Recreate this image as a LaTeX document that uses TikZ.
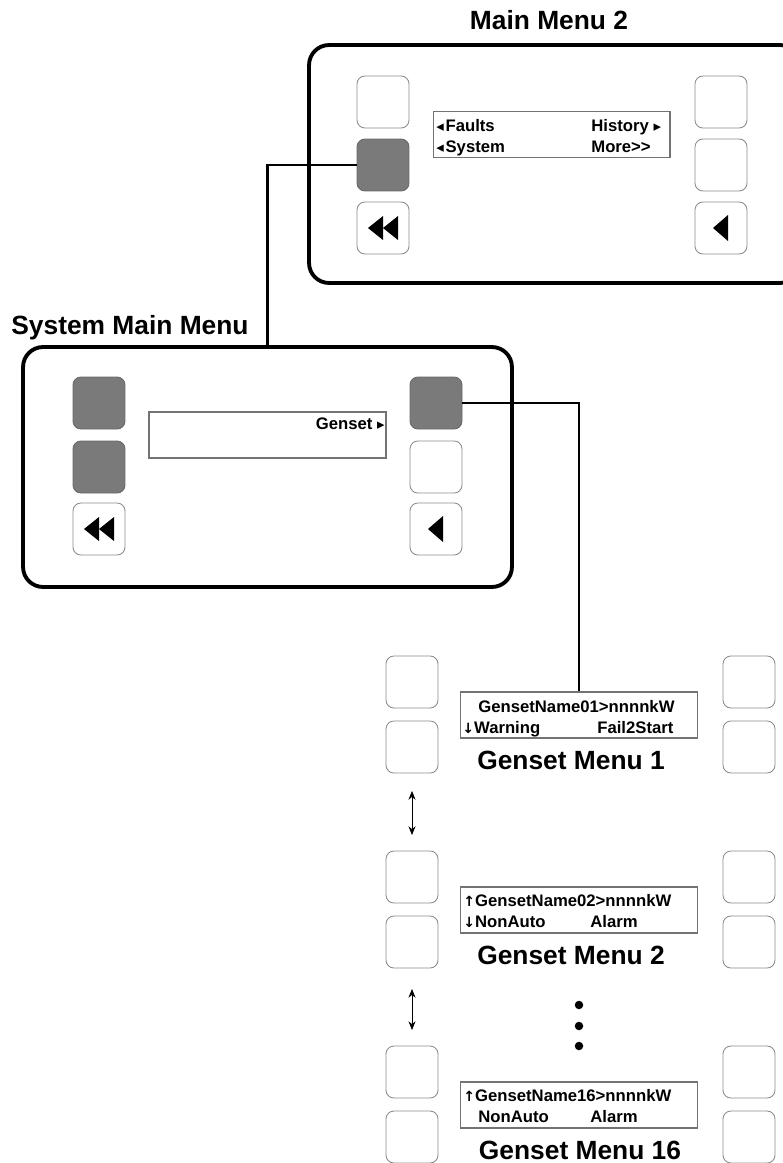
\documentclass[tikz,border=0pt]{standalone}
\usepackage{fontspec}
\setmainfont{Liberation Sans}
\newfontfamily\symfont{DejaVu Sans}
\usetikzlibrary{calc,arrows.meta}

\definecolor{keygray}{RGB}{122,122,122}
\tikzset{
  softkey/.style={draw=black!45, line width=0.5pt, rounded corners=4.5pt,
    minimum size=1.04cm, inner sep=0pt},
  keyon/.style={softkey, fill=keygray, draw=keygray!85!black},
  panel/.style={draw, line width=2.2pt, rounded corners=0.4cm, inner sep=0pt},
  lcd/.style={draw=black!55, line width=0.6pt, inner sep=0pt,
    minimum width=4.74cm, minimum height=0.92cm},
  lcdtext/.style={font=\bfseries\fontsize{9.5}{10}\selectfont, inner sep=0pt, anchor=base west},
  menutitle/.style={font=\bfseries\fontsize{15}{17}\selectfont, inner sep=0pt},
  wire/.style={line width=1.3pt},
  updown/.style={thin, {Stealth[length=5pt,width=4pt]}-{Stealth[length=5pt,width=4pt]}},
  dot/.style={circle, fill, inner sep=0pt, minimum size=0.17cm},
}
\newcommand{\la}{{\symfont\fontsize{8.5}{8}\selectfont ◂}\kern1pt}
\newcommand{\ra}{{\symfont\fontsize{8.5}{8}\selectfont ▸}}
\newcommand{\dn}{{\symfont\fontsize{8}{8}\selectfont ↓}}
\newcommand{\up}{{\symfont\fontsize{8}{8}\selectfont ↑}}

\begin{document}
\begin{tikzpicture}[x=0.02cm,y=-0.02cm]
\useasboundingbox (0,0) rectangle (783,1163);
\clip (0,0) rectangle (783,1163);

% main menu 2
\node[panel, minimum width=9.82cm, minimum height=4.76cm] (mm2) at (554.5,164) {};
\node[menutitle] (mm2t) at (549,20) {Main Menu 2};
\node[softkey] (mm2l1) at (383,102) {};
\node[keyon] (mm2l2) at (383,165) {};
\node[softkey] (mm2l3) at (383,228) {};
\foreach \r/\y in {1/102,2/165,3/228}{
  \node[softkey] (mm2r\r) at (721,\y) {};
}
\fill ($(mm2l3.center)+(-15,0)$) -- ++(15,-12) -- ++(0,24) -- cycle;
\fill (mm2l3.center) -- ++(15,-12) -- ++(0,24) -- cycle;
\fill ($(mm2r3.center)+(-8,0)$) -- ++(15,-13) -- ++(0,26) -- cycle;
\node[lcd] (mm2lcd) at (551.5,134.5) {};
\node[lcdtext] at (436,131) {\la Faults};
\node[lcdtext] at (591,131) {History \ra};
\node[lcdtext] at (436,152) {\la System};
\node[lcdtext] at (591,152) {More>{}>};

% system main menu
\node[panel, minimum width=9.78cm, minimum height=4.8cm] (smm) at (267.5,467) {};
\node[menutitle] (smmt) at (130,328) {System Main Menu};
\node[keyon] (smml1) at (99,403) {};
\node[keyon] (smml2) at (99,467) {};
\node[softkey] (smml3) at (99,529) {};
\node[keyon] (smmr1) at (436,403) {};
\node[softkey] (smmr2) at (436,467) {};
\node[softkey] (smmr3) at (436,529) {};
\fill ($(smml3.center)+(-15,0)$) -- ++(15,-12) -- ++(0,24) -- cycle;
\fill (smml3.center) -- ++(15,-12) -- ++(0,24) -- cycle;
\fill ($(smmr3.center)+(-8,0)$) -- ++(15,-13) -- ++(0,26) -- cycle;
\node[lcd] (smmlcd) at (267.5,435) {};
\node[lcdtext, anchor=base east] at (385,429) {Genset \ra};

% genset menus
\foreach \n/\y/\tx in {1/0/571,2/195/571,16/390/580}{
  \node[softkey] (g\n-la) at (412,682+\y) {};
  \node[softkey] (g\n-lb) at (412,747+\y) {};
  \node[softkey] (g\n-ra) at (749,682+\y) {};
  \node[softkey] (g\n-rb) at (749,747+\y) {};
  \node[lcd] (g\n lcd) at (579,715+\y) {};
  \node[menutitle] (g\n t) at (\tx,760+\y) {Genset Menu \n};
}
\node[lcdtext] at (478,712) {GensetName01>nnnnkW};
\node[lcdtext] at (462,733) {\dn Warning};
\node[lcdtext] at (597,733) {Fail2Start};
\node[lcdtext] at (463,906) {\up GensetName02>nnnnkW};
\node[lcdtext] at (463,927) {\dn NonAuto};
\node[lcdtext] at (590,927) {Alarm};
\node[lcdtext] at (463,1101) {\up GensetName16>nnnnkW};
\node[lcdtext] at (478,1122) {NonAuto};
\node[lcdtext] at (590,1122) {Alarm};

\draw[updown, shorten <=0.35cm, shorten >=0.31cm] (g1-lb.south) -- (g2-la.north);
\draw[updown, shorten <=0.41cm, shorten >=0.31cm] (g2-lb.south) -- (g16-la.north);
\foreach \k/\y in {1/1005,2/1026,3/1046}{
  \node[dot] (dot\k) at (579,\y) {};
}

% links
\draw[wire] (mm2l2.west) -| (smm.north);
\draw[wire] (smmr1.east) -| (g1lcd.north);
\end{tikzpicture}
\end{document}
